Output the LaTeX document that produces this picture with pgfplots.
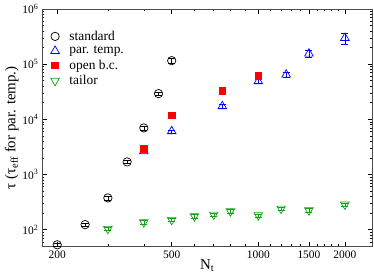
\documentclass[border=0pt]{standalone}
\usepackage{pgfplots}
\pgfplotsset{compat=1.18}
\usepackage{fontspec}
\setmainfont{Liberation Serif}
\definecolor{mgreen}{RGB}{20,160,20}
\begin{document}
\begin{tikzpicture}
\begin{axis}[name=ax,
  scale only axis, width=331bp, height=238bp,
  xmode=log, ymode=log,
  xmin=177, xmax=2495, ymin=49, ymax=1e6,
  xtick={200,500,1000,1500,2000},
  xticklabels={200,500,1000,1500,2000},
  minor xtick={300,400,600,700,800,900,1100,1200,1300,1400,1600,1700,1800,1900},
  ytick={100,1000,10000,100000,1000000},
  yticklabels={10\textsuperscript{2},10\textsuperscript{3},10\textsuperscript{4},10\textsuperscript{5},10\textsuperscript{6}},
  minor ytick={50,60,70,80,90,200,300,400,500,600,700,800,900,2000,3000,4000,5000,6000,7000,8000,9000,20000,30000,40000,50000,60000,70000,80000,90000,200000,300000,400000,500000,600000,700000,800000,900000},
  tick align=inside,
  major tick length=5bp, minor tick length=2.5bp,
  tick style={black, line width=0.5pt},
  ticklabel style={font=\fontsize{11.5}{13}\selectfont},
  xticklabel style={yshift=-0.5bp},
  xlabel={N\textsubscript{t}},
  ylabel={τ (τ\textsubscript{eff} for par. temp.)},
  label style={font=\fontsize{15}{17}\selectfont},
  xlabel style={yshift=6bp},
  ylabel style={yshift=-3bp},
  axis line style={line width=0.6pt, black!70},
  legend style={draw=none, fill=none, at={(0.017,0.925)}, anchor=north west,
    font=\fontsize{13.5}{15}\selectfont, row sep=0.6bp,
    legend cell align=left,
    /tikz/every odd column/.append style={column sep=8bp}},
  every axis plot/.append style={line width=0.7pt},
  error bars/y dir=both, error bars/y explicit,
  error bars/error mark options={rotate=90, mark size=3.5bp},
]
\addplot[only marks, black, mark=o, mark size=4.2bp, error bars/.cd, error bar style={black}]
  coordinates {
  (200,53) +- (0,4)
  (250,123) +- (0,9)
  (300,375) +- (0,27)
  (350,1686) +- (0,120)
  (400,6966) +- (0,500)
  (450,29200) +- (0,2200)
  (500,115600) +- (0,12000)
  };
\addlegendentry{standard}
\addplot[only marks, blue, mark=triangle, mark size=5bp, error bars/.cd, error bar style={blue}]
  coordinates {
  (400,2630) +- (0,150)
  (500,6060) +- (0,400)
  (750,17200) +- (0,1500)
  (1000,48800) +- (0,4000)
  (1250,64500) +- (0,6000)
  (1500,155000) +- (0,22000)
  (2000,298000) +- (0,65000)
  };
\addlegendentry{par. temp.}
\addplot[only marks, red, mark=square*, mark size=3.3bp, error bars/.cd, error bar style={red}]
  coordinates {
  (400,2900) +- (0,0)
  (500,11800) +- (0,0)
  (750,33100) +- (0,0)
  (1000,61900) +- (0,0)
  };
\addlegendentry{open b.c.}
\addplot[only marks, mgreen, mark=triangle, mark options={rotate=180}, mark size=5bp, error bars/.cd, error bar style={mgreen}]
  coordinates {
  (300,103) +- (0,7)
  (400,136) +- (0,9)
  (500,150) +- (0,10)
  (600,175) +- (0,12)
  (700,187) +- (0,13)
  (800,215) +- (0,15)
  (1000,182) +- (0,12)
  (1200,240) +- (0,17)
  (1500,224) +- (0,16)
  (2000,284) +- (0,20)
  };
\addlegendentry{tailor}
\end{axis}
\pgfresetboundingbox
\path ([xshift=-42bp,yshift=-33bp]ax.south west) rectangle ([xshift=1.5bp,yshift=9bp]ax.north east);
\end{tikzpicture}
\end{document}
